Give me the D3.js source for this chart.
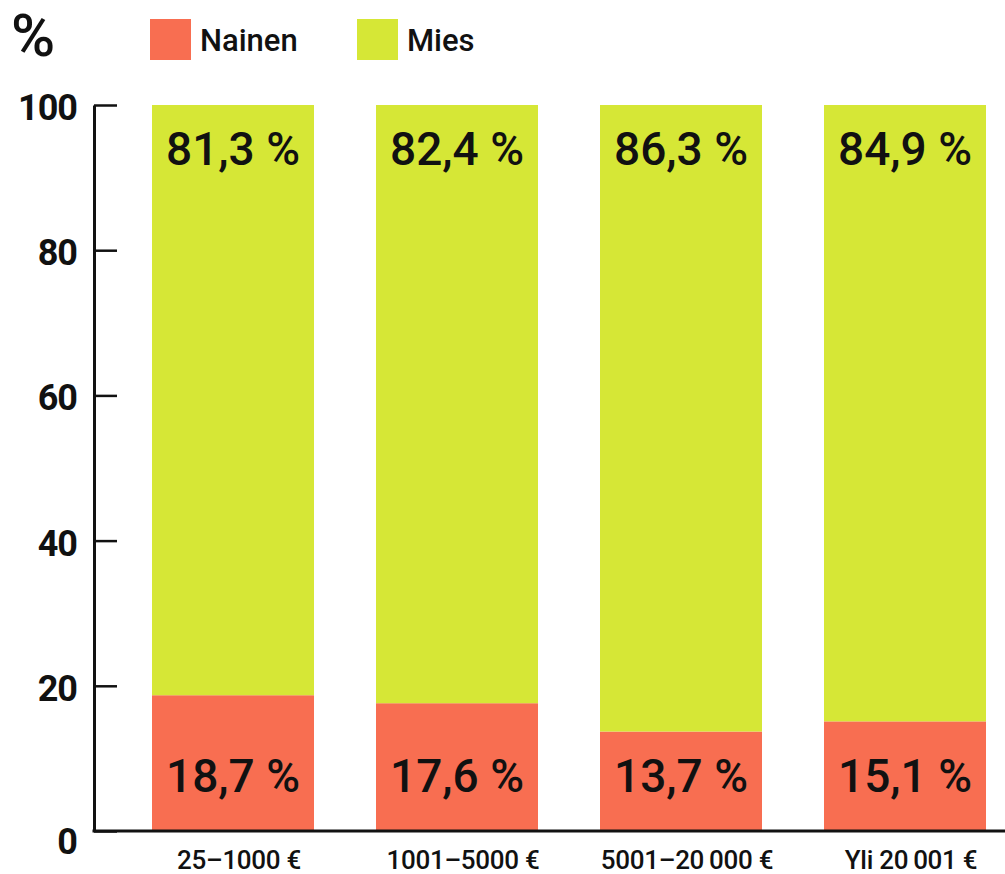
<!DOCTYPE html>
<html>
<head>
<meta charset="utf-8">
<script src="https://cdn.jsdelivr.net/npm/d3@7"></script>
<style>
  body { margin: 0; background: #fff; }
  svg text { font-family: Roboto, "Open Sans", sans-serif; fill: #111; }
</style>
</head>
<body>
<div id="chart"></div>
<script>
const categories = ["25–1000 €", "1001–5000 €", "5001–20\u2009000 €", "Yli 20\u2009001 €"];
const nainen = [18.7, 17.6, 13.7, 15.1];
const mies = [81.3, 82.4, 86.3, 84.9];
const series_names = ["Nainen", "Mies"];
const y_ticks = [0, 20, 40, 60, 80, 100];

const colors = {Nainen: "#f86e51", Mies: "#d6e736"};
const width = 1005, height = 874;

const svg = d3.select("#chart").append("svg")
  .attr("width", width)
  .attr("height", height);

const axis_x = 94;
const y = d3.scaleLinear().domain([0, 100]).range([831, 105]);
const x = d3.scaleBand().domain(categories).range([152, 986]).paddingInner(62 / 224).paddingOuter(0);

// table for stacking
const rows = categories.map((c, i) => ({cat: c, Nainen: nainen[i], Mies: mies[i]}));
const stacked = d3.stack().keys(series_names)(rows);

const fmt = v => d3.format(".1f")(v).replace(".", ",") + " %";

// bars
svg.append("g").selectAll("g")
  .data(stacked)
  .join("g")
  .attr("fill", d => colors[d.key])
  .selectAll("rect")
  .data(d => d)
  .join("rect")
  .attr("x", d => x(d.data.cat))
  .attr("width", x.bandwidth())
  .attr("y", d => y(d[1]))
  .attr("height", d => y(d[0]) - y(d[1]));

// value labels
svg.append("g").selectAll("text.nainen")
  .data(rows)
  .join("text")
  .attr("x", d => x(d.cat) + x.bandwidth() / 2)
  .attr("y", y(0) - 39)
  .attr("text-anchor", "middle")
  .style("font-size", "46px")
  .style("font-weight", 500)
  .text(d => fmt(d.Nainen));

svg.append("g").selectAll("text.mies")
  .data(rows)
  .join("text")
  .attr("x", d => x(d.cat) + x.bandwidth() / 2)
  .attr("y", y(100) + 60)
  .attr("text-anchor", "middle")
  .style("font-size", "46px")
  .style("font-weight", 500)
  .text(d => fmt(d.Mies));

// y axis
const yAxis = svg.append("g")
  .attr("transform", `translate(${axis_x},0)`)
  .call(d3.axisLeft(y).tickValues(y_ticks).tickSizeInner(-23).tickSizeOuter(0).tickPadding(17));

yAxis.select(".domain").attr("stroke", "#111").attr("stroke-width", 3);
yAxis.selectAll(".tick line").attr("stroke", "#111").attr("stroke-width", 2.5);
yAxis.selectAll(".tick text")
  .style("font-size", "36px")
  .style("font-weight", 700)
  .style("font-family", "Roboto, sans-serif")
  .style("letter-spacing", "-1px")
  .attr("fill", "#111")
  .attr("dy", d => d === 0 ? "0.62em" : "0.4em");

// baseline
svg.append("line")
  .attr("x1", axis_x - 1.5).attr("x2", width)
  .attr("y1", y(0)).attr("y2", y(0))
  .attr("stroke", "#111").attr("stroke-width", 3);

// category labels
svg.append("g").selectAll("text")
  .data(categories)
  .join("text")
  .attr("x", d => x(d) + x.bandwidth() / 2 + 6)
  .attr("y", 869)
  .attr("text-anchor", "middle")
  .style("font-size", "26px")
  .style("font-weight", 500)
  .style("letter-spacing", "-0.3px")
  .text(d => d);

// % unit
svg.append("text")
  .attr("x", 11).attr("y", 56)
  .style("font-size", "60px")
  .style("font-weight", 500)
  .text("%");

// legend
const legend_x = [150, 357];
const legend = svg.append("g").selectAll("g")
  .data(series_names)
  .join("g")
  .attr("transform", (d, i) => `translate(${legend_x[i]},19)`);

legend.append("rect")
  .attr("width", 41).attr("height", 41)
  .attr("fill", d => colors[d]);

legend.append("text")
  .attr("x", 50).attr("y", 32)
  .style("font-size", "31px")
  .style("font-weight", 500)
  .text(d => d);
</script>
</body>
</html>
